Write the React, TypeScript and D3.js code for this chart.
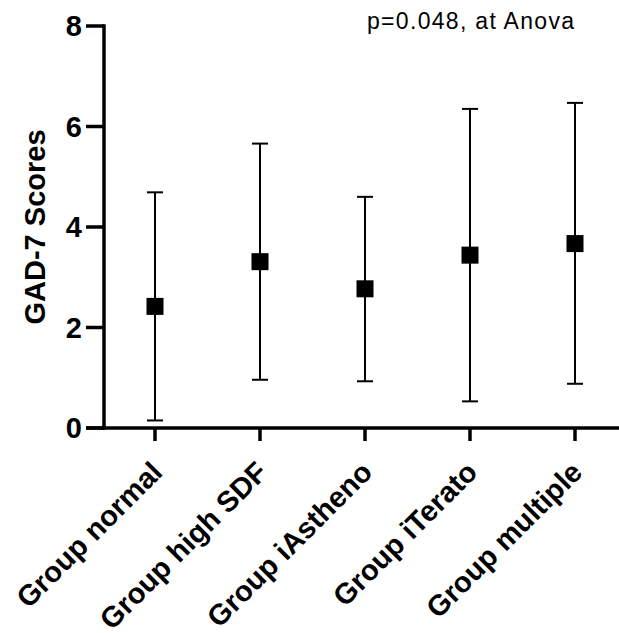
import React from "react";
import * as d3 from "d3";

const categories = ["Group normal", "Group high SDF", "Group iAstheno", "Group iTerato", "Group multiple"];
const means = [2.42, 3.31, 2.77, 3.44, 3.67];
const upper = [4.69, 5.66, 4.6, 6.35, 6.47];
const lower = [0.15, 0.96, 0.93, 0.53, 0.88];
const yTicks = [0, 2, 4, 6, 8];
const yTitle = "GAD-7 Scores";
const annotation = "p=0.048, at Anova";

const W = 619;
const H = 633;
const FONT = "'Liberation Sans', Arial, Helvetica, sans-serif";

export default function App() {
  const axisX = 104;
  const axisY = 428;
  const y = d3.scaleLinear().domain([0, 8]).range([axisY, 26]);
  const x = d3.scalePoint<string>().domain(categories).range([155, 575]);

  return (
    <svg width={W} height={H} style={{ position: "absolute", left: 0, top: 0, background: "#fff" }}>
      {/* y axis */}
      <line x1={axisX} x2={axisX} y1={y(8) - 1.75} y2={axisY + 1.75} stroke="#000" strokeWidth={3.5} />
      {yTicks.map((t) => (
        <g key={t}>
          <line x1={86} x2={axisX} y1={y(t)} y2={y(t)} stroke="#000" strokeWidth={3.5} />
          <text x={82} y={y(t) + 10} textAnchor="end" fontFamily={FONT} fontWeight="bold" fontSize={29}>
            {t}
          </text>
        </g>
      ))}
      {/* x axis */}
      <line x1={86} x2={W} y1={axisY} y2={axisY} stroke="#000" strokeWidth={3.5} />
      {categories.map((c) => (
        <g key={c}>
          <line x1={x(c)} x2={x(c)} y1={axisY} y2={axisY + 13} stroke="#000" strokeWidth={3.5} />
          <text
            transform={`translate(${(x(c) as number) + 9},${axisY + 46}) rotate(-45)`}
            textAnchor="end"
            fontFamily={FONT}
            fontWeight="bold"
            fontSize={29}
          >
            {c}
          </text>
        </g>
      ))}
      {/* error bars + markers */}
      {categories.map((c, i) => {
        const cx = x(c) as number;
        return (
          <g key={"e" + c}>
            <line x1={cx} x2={cx} y1={y(upper[i])} y2={y(lower[i])} stroke="#000" strokeWidth={2} />
            <line x1={cx - 8} x2={cx + 8} y1={y(upper[i])} y2={y(upper[i])} stroke="#000" strokeWidth={2} />
            <line x1={cx - 8} x2={cx + 8} y1={y(lower[i])} y2={y(lower[i])} stroke="#000" strokeWidth={2} />
            <rect x={cx - 8.5} y={y(means[i]) - 8.5} width={17} height={17} fill="#000" />
          </g>
        );
      })}
      {/* y title */}
      <text
        transform={`translate(45,227) rotate(-90)`}
        textAnchor="middle"
        fontFamily={FONT}
        fontWeight="bold"
        fontSize={29}
      >
        {yTitle}
      </text>
      <text x={367} y={29} fontFamily={FONT} fontSize={23} textLength={207} lengthAdjust="spacing">
        {annotation}
      </text>
    </svg>
  );
}
